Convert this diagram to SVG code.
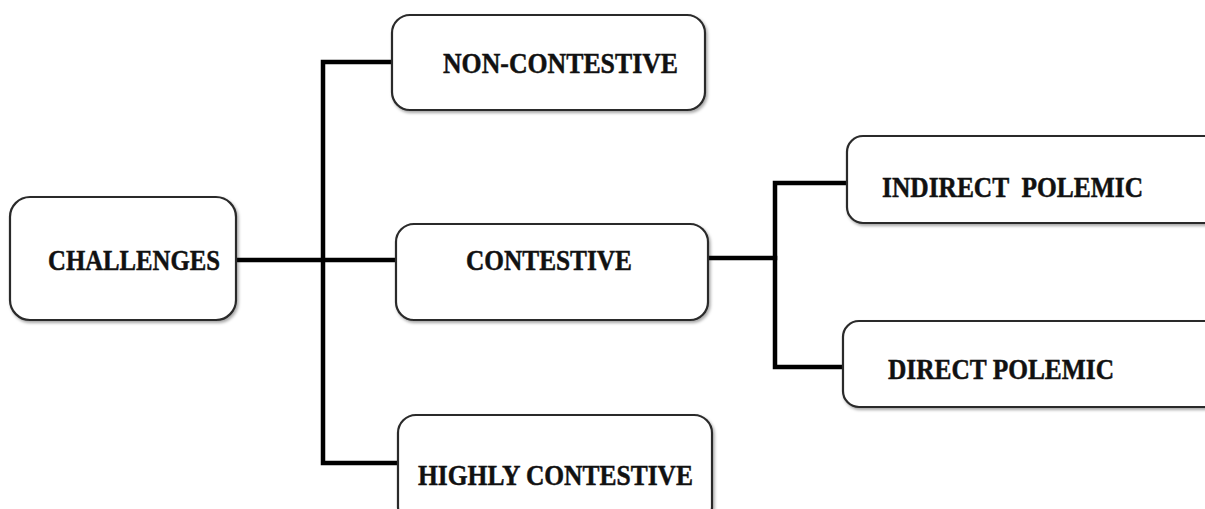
<svg xmlns="http://www.w3.org/2000/svg" width="1205" height="509" viewBox="0 0 1205 509">
  <style>
    .box { fill: #ffffff; stroke: #2b2b2b; stroke-width: 2.2; filter: url(#shade); }
    .lbl { font-family: "Liberation Serif", "DejaVu Serif", serif; font-weight: bold; font-size: 30px; fill: #111111; stroke: #111111; stroke-width: 0.5; }
    .wire { fill: none; stroke: #000000; stroke-width: 4.5; stroke-linecap: square; stroke-linejoin: miter; }
  </style>
  <defs>
    <filter id="shade" x="-5%" y="-10%" width="115%" height="130%">
      <feDropShadow dx="1.5" dy="2" stdDeviation="1.5" flood-color="#000000" flood-opacity="0.35"/>
    </filter>
  </defs>
  <rect width="1205" height="509" fill="#ffffff"/>

  <g id="connectors">
    <!-- trunk from CHALLENGES to the three contest levels -->
    <path class="wire" d="M236 260 H396"/>
    <path class="wire" d="M392 62 H323 V463 H399"/>
    <!-- branch from CONTESTIVE to the two polemic kinds -->
    <path class="wire" d="M708 258 H775"/>
    <path class="wire" d="M846 183 H775 V367 H843"/>
  </g>

  <g id="challenges">
    <rect class="box" x="10" y="197" width="226" height="123" rx="20"/>
    <text class="lbl" x="48" y="270" textLength="172" lengthAdjust="spacingAndGlyphs">CHALLENGES</text>
  </g>

  <g id="non-contestive">
    <rect class="box" x="392" y="15" width="313" height="95" rx="18"/>
    <text class="lbl" x="443" y="73" textLength="235" lengthAdjust="spacingAndGlyphs">NON-CONTESTIVE</text>
  </g>

  <g id="contestive">
    <rect class="box" x="396" y="224" width="312" height="96" rx="18"/>
    <text class="lbl" x="466" y="270" textLength="166" lengthAdjust="spacingAndGlyphs">CONTESTIVE</text>
  </g>

  <g id="highly-contestive">
    <rect class="box" x="398" y="415" width="314" height="110" rx="18"/>
    <text class="lbl" x="418" y="485" textLength="275" lengthAdjust="spacingAndGlyphs">HIGHLY CONTESTIVE</text>
  </g>

  <g id="indirect-polemic">
    <rect class="box" x="847" y="136" width="380" height="87" rx="16"/>
    <text class="lbl" x="882" y="197" textLength="261" lengthAdjust="spacingAndGlyphs" xml:space="preserve">INDIRECT  POLEMIC</text>
  </g>

  <g id="direct-polemic">
    <rect class="box" x="843" y="321" width="380" height="86" rx="16"/>
    <text class="lbl" x="888" y="379" textLength="226" lengthAdjust="spacingAndGlyphs">DIRECT POLEMIC</text>
  </g>
</svg>
